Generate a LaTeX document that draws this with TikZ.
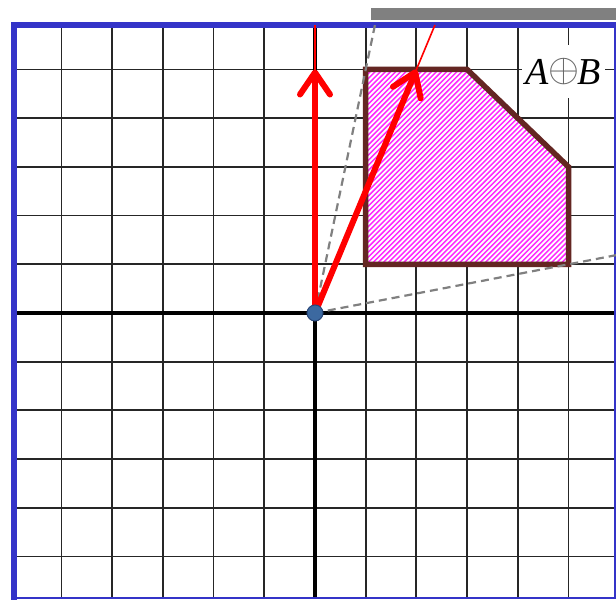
\documentclass[tikz,border=0pt]{standalone}
\usepackage{fontspec}
\setmainfont{Liberation Serif}
\usetikzlibrary{arrows.meta}
\definecolor{frameblue}{RGB}{52,52,200}
\definecolor{polybrown}{RGB}{100,38,34}
\definecolor{dotblue}{RGB}{60,105,160}
\definecolor{dotedge}{RGB}{40,70,120}
\definecolor{hatchpink}{RGB}{255,40,255}
\tikzset{
  gridline/.style={line width=1.8pt, black!85},
  axisline/.style={line width=3.2pt, black},
  framebig/.style={line width=6pt, frameblue},
  framethin/.style={line width=2pt, frameblue},
  tangent/.style={line width=2.2pt, black!50, dash pattern=on 8pt off 5pt},
  vecline/.style={line width=6pt, red, line cap=round,
    -{Straight Barb[length=22pt,width=30pt,round]}},
  thinray/.style={line width=1.6pt, red},
  polyedge/.style={line width=5.5pt, polybrown, line join=miter},
  hatchline/.style={line width=1.8pt, white},
  label/.style={fill=white, inner xsep=4pt, inner ysep=4pt, minimum height=53pt,
    font=\fontsize{38}{38}\selectfont}
}
\begin{document}
\begin{tikzpicture}[x=50.7pt,y=48.7pt]
\useasboundingbox (-6.213,-5.893) rectangle (5.937,6.427);
% gray bar
\fill[black!50] (1.105,6.016) rectangle (5.937,6.263);
% grid
\foreach \i in {-5,...,5} {
  \draw[gridline] (\i,-5.85) -- (\i,5.91);
  \draw[gridline] (-5.94,\i) -- (5.92,\i);
}
% axes
\draw[axisline] (0,-5.85) -- (0,5.91);
\draw[axisline] (-5.94,0) -- (5.937,0);
% frame
\draw[framethin] (-5.937,-5.852) -- (5.92,-5.852) -- (5.92,5.914);
\draw[framebig] (-5.937,-5.9) -- (-5.937,5.914) -- (5.937,5.914);
% polygon A+B
\coordinate (P1) at (1,5);
\coordinate (P2) at (3,5);
\coordinate (P3) at (5,3);
\coordinate (P4) at (5,1);
\coordinate (P5) at (1,1);
\fill[hatchpink] (P1) -- (P2) -- (P3) -- (P4) -- (P5) -- cycle;
\begin{scope}
  \clip (P1) -- (P2) -- (P3) -- (P4) -- (P5) -- cycle;
  \foreach \k in {-60,...,52} {
    \draw[hatchline] (\k*5.1pt,0pt) -- ++(300pt,300pt);
  }
\end{scope}
\draw[polyedge] (P1) -- (P2) -- (P3) -- (P4) -- (P5) -- cycle;
% origin and rays
\coordinate (O) at (0,0);
\coordinate (T1) at (1.183,5.914);
\coordinate (T2) at (5.937,1.187);
\coordinate (R1) at (0,5.914);
\coordinate (R2) at (2.366,5.914);
\coordinate (V1) at (0,5);
\coordinate (V2) at (2,5);
\draw[tangent] (O) -- (T1);
\draw[tangent] (O) -- (T2);
\draw[thinray] (O) -- (R1);
\draw[thinray] (O) -- (R2);
\draw[vecline] (O) -- (V1);
\draw[vecline] (O) -- (V2);
\fill[dotblue, draw=dotedge, line width=1pt] (O) circle (8pt);
% label
\node[label] (lab) at (4.9,4.95) {\textit{A}\hspace{-1pt}\raisebox{3pt}{\scalebox{1.6}{\color{black!60}$\oplus$}}\hspace{-1pt}\textit{B}};
\end{tikzpicture}
\end{document}
